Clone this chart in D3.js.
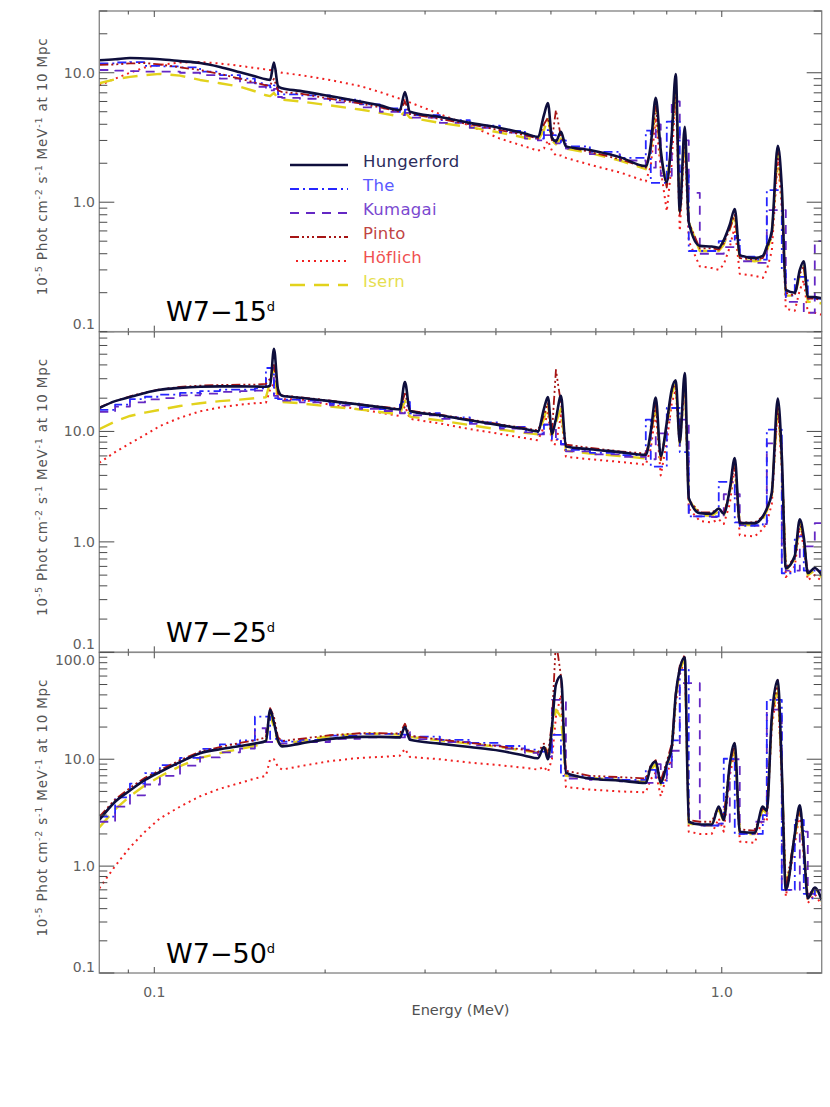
<!DOCTYPE html>
<html>
<head>
<meta charset="utf-8">
<script src="https://cdn.jsdelivr.net/npm/d3@7"></script>
<style>
  body { margin: 0; background: #fff; }
</style>
</head>
<body>
<script>
// energy grid (MeV), shared by every panel and model
const energy = [0.080, 0.0853, 0.0906, 0.0963, 0.1023, 0.111, 0.1204, 0.1305, 0.1416, 0.1504,
    0.1573, 0.160, 0.1625, 0.1652, 0.1679, 0.1806, 0.2040, 0.2303, 0.2498, 0.2709,
    0.2765, 0.2821, 0.3186, 0.3598, 0.4064, 0.4498, 0.4742, 0.4860, 0.4939, 0.5020,
    0.5102, 0.5207, 0.5313, 0.5855, 0.6613, 0.7347, 0.7497, 0.7650, 0.7806, 0.8000,
    0.8163, 0.8296, 0.8433, 0.8606, 0.8746, 0.9147, 0.9601, 0.9878, 1.0081, 1.0330,
    1.0541, 1.0757, 1.1432, 1.1810, 1.2005, 1.2251, 1.2552, 1.2758, 1.2967, 1.3449,
    1.3725, 1.3948, 1.4177, 1.4585, 1.500];

const models = ['Hungerford', 'The', 'Kumagai', 'Pinto', 'Höflich', 'Isern'];
const epochs = ['15', '25', '50'];

// W7 - 15 days
const hungerford15 = [12.5, 12.7, 13.0, 12.9, 12.7, 12.3, 11.9, 11.1, 10.1, 9.4,
    8.9, 8.8, 12.0, 7.9, 7.6, 7.25, 6.6, 6.0, 5.6, 5.15,
    7.1, 5.0, 4.55, 4.1, 3.75, 3.4, 3.2, 4.7, 5.84, 3.15,
    2.95, 3.5, 2.7, 2.53, 2.23, 1.9, 2.77, 6.41, 2.53, 1.43,
    3.3, 9.77, 0.85, 3.83, 0.7, 0.46, 0.455, 0.445, 0.51, 0.67,
    0.886, 0.39, 0.37, 0.385, 0.455, 0.6, 2.73, 1.3, 0.21, 0.2,
    0.3, 0.35, 0.186, 0.185, 0.181];
const the15 = [11.8, 12.0, 12.1, 11.3, 11.2, 11.0, 10.2, 9.6, 9.0, 8.3,
    8.0, 7.7, 8.0, 6.8, 6.8, 6.7, 6.2, 5.7, 5.3, 4.9,
    5.2, 4.7, 4.3, 3.9, 3.55, 3.25, 3.1, 3.6, 3.6, 3.3,
    2.9, 3.0, 2.7, 2.45, 2.2, 3.57, 1.41, 1.41, 1.41, 4.2,
    4.2, 4.2, 1.72, 1.72, 0.42, 0.42, 0.42, 0.5, 0.5, 0.5,
    0.55, 0.38, 0.36, 0.36, 1.24, 1.24, 1.24, 0.3, 0.19, 0.265,
    0.265, 0.265, 0.18, 0.18, 0.17];
const kumagai15 = [10.5, 10.4, 10.3, 10.2, 10.2, 10.0, 9.6, 9.0, 8.4, 7.8,
    7.4, 7.3, 7.5, 6.5, 6.4, 6.3, 5.9, 5.4, 5.0, 4.7,
    4.9, 4.5, 4.1, 3.75, 3.45, 3.1, 3.0, 3.3, 3.3, 3.3,
    2.85, 2.9, 2.6, 2.35, 2.1, 1.85, 1.85, 4.0, 1.6, 1.6,
    6.0, 6.0, 3.0, 3.0, 1.18, 0.4, 0.4, 0.4, 0.45, 0.45,
    0.45, 0.35, 0.34, 0.34, 0.87, 0.87, 0.87, 0.87, 0.17, 0.17,
    0.17, 0.14, 0.14, 0.5, 0.5];
const pinto15 = [11.5, 11.6, 11.8, 11.9, 11.6, 11.0, 10.5, 9.8, 9.0, 8.4,
    8.0, 8.0, 9.0, 7.3, 7.1, 6.9, 6.3, 5.8, 5.4, 5.0,
    6.0, 4.8, 4.4, 4.0, 3.6, 3.3, 3.1, 4.0, 4.5, 3.0,
    5.15, 3.2, 2.7, 2.45, 2.15, 1.85, 2.6, 5.5, 2.3, 1.3,
    3.0, 8.5, 0.8, 3.5, 0.7, 0.44, 0.44, 0.43, 0.48, 0.62,
    0.8, 0.37, 0.36, 0.37, 0.43, 0.55, 2.5, 1.2, 0.2, 0.19,
    0.28, 0.32, 0.18, 0.18, 0.175];
const hoflich15 = [8.0, 9.0, 10.0, 11.0, 11.5, 12.0, 12.1, 11.8, 11.3, 10.9,
    10.6, 10.5, 10.4, 10.2, 10.0, 9.6, 8.8, 7.9, 7.1, 6.3,
    6.1, 5.9, 4.8, 3.9, 3.1, 2.7, 2.5, 2.6, 3.0, 2.5,
    2.3, 2.3, 2.2, 1.95, 1.7, 1.45, 1.9, 4.5, 1.8, 0.85,
    2.0, 7.5, 0.6, 3.0, 0.5, 0.32, 0.31, 0.3, 0.33, 0.45,
    0.65, 0.28, 0.27, 0.26, 0.3, 0.42, 2.2, 0.9, 0.15, 0.145,
    0.21, 0.25, 0.14, 0.14, 0.135];
const isern15 = [8.3, 8.9, 9.3, 9.6, 9.8, 9.5, 8.8, 8.3, 7.8, 7.2,
    6.7, 6.6, 7.0, 6.3, 6.2, 6.0, 5.6, 5.2, 4.9, 4.6,
    5.0, 4.5, 4.1, 3.8, 3.45, 3.15, 3.0, 3.6, 4.5, 3.0,
    2.8, 3.1, 2.6, 2.4, 2.1, 1.8, 2.5, 5.8, 2.3, 1.35,
    3.1, 9.0, 0.8, 3.5, 0.7, 0.42, 0.42, 0.42, 0.47, 0.62,
    0.82, 0.36, 0.35, 0.36, 0.42, 0.55, 2.5, 1.2, 0.19, 0.19,
    0.27, 0.32, 0.17, 0.17, 0.165];

// W7 - 25 days
const hungerford25 = [16.3, 18.8, 20.5, 22.3, 23.8, 24.8, 25.4, 25.6, 25.6, 25.5,
    25.4, 26.0, 56.0, 24.0, 21.0, 20.2, 18.8, 17.5, 16.6, 15.8,
    28.0, 15.3, 14.0, 12.6, 11.4, 10.5, 10.0, 16.0, 20.5, 9.5,
    13.0, 21.0, 7.3, 6.9, 6.5, 6.15, 10.0, 20.3, 6.0, 12.0,
    24.0, 29.0, 8.0, 33.8, 2.5, 1.82, 1.8, 2.0, 1.8, 3.0,
    5.74, 1.48, 1.48, 1.7, 2.0, 2.8, 19.8, 6.0, 0.58, 0.75,
    1.6, 1.1, 0.52, 0.58, 0.5];
const the25 = [15.7, 17.5, 19.6, 20.6, 21.5, 22.3, 23.2, 23.9, 23.9, 24.5,
    37.5, 37.5, 20.0, 19.6, 19.4, 19.0, 17.8, 16.6, 15.9, 18.5,
    18.5, 14.6, 13.4, 12.1, 11.0, 10.1, 9.6, 11.5, 11.5, 8.5,
    8.5, 7.7, 6.8, 6.4, 6.1, 12.8, 4.8, 4.8, 4.8, 16.3,
    16.3, 16.3, 6.5, 6.5, 1.7, 1.7, 1.7, 3.5, 3.5, 3.5,
    1.5, 1.4, 1.42, 1.45, 10.4, 10.4, 10.4, 0.52, 0.52, 1.12,
    1.12, 0.55, 0.55, 0.55, 0.5];
const kumagai25 = [15.0, 16.8, 18.3, 19.5, 20.0, 21.2, 22.0, 22.8, 23.2, 23.4,
    30.6, 30.6, 21.0, 19.5, 19.0, 18.3, 17.2, 16.0, 15.3, 14.6,
    17.0, 14.0, 13.0, 11.7, 10.6, 9.8, 9.4, 11.5, 11.5, 11.5,
    8.4, 7.6, 6.6, 6.2, 5.9, 5.6, 5.6, 9.6, 9.6, 12.8,
    12.8, 12.8, 12.8, 12.8, 1.7, 1.7, 1.68, 1.7, 2.7, 2.7,
    2.7, 1.42, 1.4, 1.45, 7.8, 7.8, 7.8, 0.6, 0.55, 0.55,
    0.91, 0.91, 0.91, 1.48, 1.48];
const pinto25 = [16.5, 18.8, 20.8, 22.5, 24.0, 25.3, 26.0, 26.3, 26.5, 26.5,
    27.0, 30.0, 40.0, 22.0, 21.2, 20.4, 19.0, 17.6, 16.8, 16.0,
    22.0, 15.4, 14.2, 12.8, 11.6, 10.7, 10.2, 14.0, 18.0, 9.6,
    36.0, 18.0, 7.6, 7.1, 6.6, 6.3, 9.0, 18.0, 5.5, 11.0,
    23.0, 28.0, 8.0, 32.0, 2.4, 1.85, 1.85, 2.0, 1.8, 2.8,
    5.4, 1.5, 1.5, 1.7, 1.95, 2.7, 19.0, 5.5, 0.58, 0.72,
    1.55, 1.05, 0.52, 0.58, 0.52];
const hoflich25 = [5.2, 6.5, 7.8, 9.3, 11.2, 13.3, 15.2, 16.5, 17.5, 18.0,
    18.2, 24.0, 27.0, 20.0, 19.6, 19.5, 17.5, 15.8, 14.8, 13.8,
    17.0, 13.0, 11.8, 10.5, 9.5, 8.7, 8.3, 11.0, 15.0, 7.8,
    7.6, 14.0, 5.9, 5.6, 5.3, 5.0, 7.0, 15.0, 4.0, 8.0,
    18.0, 24.0, 7.0, 28.0, 2.0, 1.55, 1.5, 1.6, 1.45, 2.2,
    4.8, 1.15, 1.12, 1.3, 1.5, 2.2, 17.0, 4.5, 0.48, 0.6,
    1.35, 0.9, 0.45, 0.5, 0.44];
const isern25 = [10.5, 12.3, 13.8, 14.8, 15.7, 17.0, 18.0, 18.8, 19.4, 20.0,
    20.4, 28.0, 38.0, 19.0, 18.5, 18.0, 16.8, 15.8, 15.0, 14.3,
    19.0, 13.6, 12.6, 11.4, 10.4, 9.7, 9.4, 13.0, 18.0, 9.0,
    12.0, 16.0, 6.7, 6.3, 6.0, 5.7, 9.0, 18.0, 5.5, 11.0,
    22.0, 27.0, 7.5, 30.0, 2.4, 1.75, 1.72, 1.9, 1.7, 2.8,
    5.3, 1.42, 1.42, 1.6, 1.9, 2.6, 18.5, 5.5, 0.55, 0.7,
    1.5, 1.05, 0.5, 0.55, 0.48];

// W7 - 50 days
const hungerford50 = [2.7, 4.0, 5.1, 6.4, 7.6, 9.4, 11.4, 12.4, 13.3, 14.0,
    14.8, 29.0, 22.0, 15.0, 13.2, 14.0, 15.5, 16.2, 16.2, 16.0,
    20.0, 15.2, 14.0, 13.0, 12.0, 10.8, 10.2, 13.0, 10.0, 20.0,
    50.0, 60.0, 7.5, 6.6, 6.3, 6.0, 8.5, 9.5, 6.0, 9.0,
    13.0, 40.0, 70.0, 90.0, 2.6, 2.45, 2.45, 3.6, 2.7, 9.0,
    14.2, 2.1, 2.05, 3.6, 3.3, 25.0, 55.0, 8.0, 0.6, 2.0,
    3.7, 1.5, 0.5, 0.63, 0.48];
const the50 = [2.9, 4.4, 5.9, 7.4, 8.8, 10.3, 12.5, 13.8, 15.0, 25.0,
    25.0, 15.5, 15.5, 15.0, 14.6, 15.2, 16.6, 17.3, 17.3, 17.0,
    17.0, 16.3, 15.2, 14.2, 13.3, 12.3, 11.8, 11.8, 11.0, 16.9,
    16.9, 7.0, 7.0, 6.7, 6.4, 7.95, 7.95, 6.5, 6.0, 9.0,
    15.0, 15.0, 68.6, 68.6, 2.5, 2.4, 2.4, 2.5, 10.1, 10.1,
    2.0, 2.0, 2.0, 3.0, 35.9, 35.9, 35.9, 0.6, 0.6, 2.7,
    2.7, 0.55, 0.5, 0.6, 0.47];
const kumagai50 = [2.6, 3.6, 4.6, 5.8, 7.0, 8.7, 10.4, 11.6, 12.6, 19.5,
    14.5, 14.5, 14.5, 14.0, 14.0, 14.5, 15.5, 16.0, 16.2, 16.0,
    18.0, 15.4, 14.5, 13.5, 12.6, 11.5, 11.0, 11.0, 10.5, 35.9,
    35.9, 35.9, 6.6, 6.4, 6.2, 6.0, 6.0, 9.0, 6.0, 8.0,
    12.0, 12.0, 51.5, 51.5, 51.5, 2.4, 2.4, 2.5, 2.6, 10.0,
    10.0, 2.0, 2.6, 2.6, 29.1, 29.1, 29.1, 0.6, 0.6, 0.6,
    2.1, 2.1, 0.55, 0.6, 0.5];
const pinto50 = [2.9, 4.2, 5.4, 6.7, 7.9, 9.8, 11.8, 13.0, 14.2, 15.0,
    16.0, 30.0, 25.0, 16.0, 14.8, 15.5, 16.8, 17.5, 17.5, 17.4,
    21.5, 16.6, 15.3, 14.2, 13.2, 12.2, 11.6, 14.0, 11.0, 22.0,
    130.0, 60.0, 7.8, 7.0, 6.8, 6.6, 8.8, 9.8, 6.3, 9.5,
    14.0, 42.0, 75.0, 95.0, 2.7, 2.6, 2.6, 3.6, 2.9, 9.0,
    14.0, 2.2, 2.15, 3.5, 3.3, 24.0, 55.0, 8.0, 0.62, 2.0,
    3.6, 1.5, 0.52, 0.64, 0.5];
const hoflich50 = [0.62, 1.0, 1.5, 2.1, 2.8, 3.6, 4.5, 5.3, 6.0, 6.6,
    7.0, 10.0, 10.0, 8.5, 8.0, 8.6, 9.6, 10.3, 10.5, 10.8,
    12.5, 10.5, 10.0, 9.3, 8.8, 8.3, 8.0, 8.5, 7.6, 10.0,
    25.0, 40.0, 5.5, 5.2, 5.0, 4.9, 6.5, 7.5, 4.5, 7.0,
    10.5, 33.0, 62.0, 85.0, 2.1, 2.0, 2.0, 2.8, 2.1, 7.0,
    12.0, 1.7, 1.65, 2.8, 2.6, 20.0, 48.0, 6.0, 0.52, 1.6,
    3.2, 1.2, 0.45, 0.55, 0.43];
const isern50 = [2.3, 3.4, 4.5, 5.7, 6.9, 8.6, 10.3, 11.4, 12.5, 13.3,
    14.5, 26.0, 20.0, 14.5, 13.6, 14.8, 16.5, 17.3, 17.3, 17.0,
    19.0, 16.2, 15.0, 14.0, 13.0, 12.0, 11.5, 13.5, 11.0, 18.0,
    29.0, 25.0, 7.0, 6.7, 6.4, 6.2, 8.0, 9.0, 5.8, 8.5,
    13.0, 38.0, 68.0, 88.0, 2.5, 2.4, 2.4, 3.4, 2.6, 8.5,
    13.5, 2.0, 2.0, 3.4, 3.1, 23.0, 52.0, 7.5, 0.58, 1.9,
    3.5, 1.4, 0.5, 0.6, 0.47];

// axis ranges and labelled ticks
const yMax = [30, 80, 100];
const yLabels = [[0.1, 1, 10], [0.1, 1, 10], [0.1, 1, 10, 100]];
const xLabels = [0.1, 1.0];

const panelData = [
    [hungerford15, the15, kumagai15, pinto15, hoflich15, isern15],
    [hungerford25, the25, kumagai25, pinto25, hoflich25, isern25],
    [hungerford50, the50, kumagai50, pinto50, hoflich50, isern50]
];

const styles = [
    {color: '#0e0e3c', text: '#2c2c5a', dash: null, w: 2.6, curve: d3.curveMonotoneX},
    {color: '#2626ff', text: '#5a5aff', dash: '9,4,2,4', w: 1.8, curve: d3.curveStepAfter},
    {color: '#6428c4', text: '#7a48d0', dash: '9,7', w: 1.8, curve: d3.curveStepAfter},
    {color: '#a61414', text: '#c04444', dash: '9,3,2,3,2,3,2,3', w: 1.8, curve: d3.curveLinear},
    {color: '#f02020', text: '#f05050', dash: '2,4', w: 2, curve: d3.curveLinear},
    {color: '#e2d21c', text: '#e6de50', dash: '15,9', w: 2.4, curve: d3.curveLinear}
];
const drawOrder = [4, 5, 2, 1, 3, 0];

const width = 830;
const height = 1107;
const left = 99.3;
const right = 821.7;
const top0 = 11;
const panelH = 320.67;

const svg = d3.select('body')
    .append('svg')
    .attr('width', width)
    .attr('height', height)
    .style('font-family', '"DejaVu Sans", sans-serif');

const x = d3.scaleLog().domain([0.08, 1.5]).range([left, right]);
const fmt = d3.format('.1f');
const xTicks = x.ticks().filter(t => t > 0.085 && t < 1.01);

epochs.forEach((epoch, p) => {
    const top = top0 + p * panelH;
    const bottom = top + panelH;
    const y = d3.scaleLog().domain([0.1, yMax[p]]).range([bottom, top]);
    const g = svg.append('g');

    g.append('clipPath')
        .attr('id', 'clip' + p)
        .append('rect')
        .attr('x', left).attr('y', top)
        .attr('width', right - left).attr('height', panelH);

    const plot = g.append('g').attr('clip-path', 'url(#clip' + p + ')');
    drawOrder.forEach(m => {
        const s = styles[m];
        const line = d3.line()
            .x((d, i) => x(energy[i]))
            .y(d => y(d))
            .curve(s.curve);
        plot.append('path')
            .datum(panelData[p][m])
            .attr('d', line)
            .attr('fill', 'none')
            .attr('stroke', s.color)
            .attr('stroke-width', s.w)
            .attr('stroke-dasharray', s.dash)
            .attr('stroke-linejoin', 'round');
    });

    // frame
    g.append('rect')
        .attr('x', left).attr('y', top)
        .attr('width', right - left).attr('height', panelH)
        .attr('fill', 'none')
        .attr('stroke', '#8a8a8a')
        .attr('stroke-width', 1.4);

    // y ticks, both sides
    y.ticks().forEach(t => {
        const lg = Math.log10(t);
        const major = Math.abs(lg - Math.round(lg)) < 1e-6;
        const len = major ? 15 : 8;
        const yy = y(t);
        g.append('line')
            .attr('x1', left).attr('x2', left + len)
            .attr('y1', yy).attr('y2', yy)
            .attr('stroke', '#4a4a4a').attr('stroke-width', 1);
        g.append('line')
            .attr('x1', right).attr('x2', right - len)
            .attr('y1', yy).attr('y2', yy)
            .attr('stroke', '#4a4a4a').attr('stroke-width', 1);
    });

    // x ticks, top and bottom
    xTicks.forEach(t => {
        const major = Math.abs(Math.log10(t) - Math.round(Math.log10(t))) < 1e-6;
        const len = major ? 6 : 3.5;
        const xx = x(t);
        g.append('line')
            .attr('x1', xx).attr('x2', xx)
            .attr('y1', top).attr('y2', top + len)
            .attr('stroke', '#4a4a4a').attr('stroke-width', 1);
        g.append('line')
            .attr('x1', xx).attr('x2', xx)
            .attr('y1', bottom).attr('y2', bottom - len)
            .attr('stroke', '#4a4a4a').attr('stroke-width', 1);
    });

    // y tick labels
    yLabels[p].forEach(v => {
        let off = 0;
        if (v === 0.1) off = p === 2 ? -6 : -8;
        if (v === 100) off = 8;
        g.append('text')
            .attr('x', 95)
            .attr('y', y(v) + off)
            .attr('text-anchor', 'end')
            .attr('dominant-baseline', 'central')
            .attr('font-size', 14)
            .attr('fill', '#606060')
            .text(fmt(v));
    });

    // y title
    const title = g.append('text')
        .attr('transform', 'translate(47,' + (top + panelH / 2 - 5) + ') rotate(-90)')
        .attr('text-anchor', 'middle')
        .attr('font-size', 13.5)
        .attr('fill', '#555')
        .attr('letter-spacing', 0.8);
    const parts = [['10', false], ['-5', true], [' Phot cm', false], ['-2', true],
        [' s', false], ['-1', true], [' MeV', false], ['-1', true], [' at 10 Mpc', false]];
    parts.forEach(([txt, sup], i) => {
        const prevSup = i > 0 && parts[i - 1][1];
        title.append('tspan')
            .attr('dy', sup ? -5 : (prevSup ? 5 : 0))
            .attr('font-size', sup ? 9.5 : 13.5)
            .text(txt);
    });

    // panel label
    const lab = g.append('text')
        .attr('x', 166)
        .attr('y', bottom - 10.5)
        .attr('font-size', 27)
        .attr('fill', '#000')
        .text('W7\u2212' + epoch);
    lab.append('tspan')
        .attr('dy', -10)
        .attr('font-size', 13)
        .text('d');
});

// legend in the first panel
models.forEach((name, i) => {
    const s = styles[i];
    const yb = 166.5 + 24 * i;
    svg.append('line')
        .attr('x1', i === 4 ? 296 : 290).attr('x2', 348)
        .attr('y1', yb - 1.5).attr('y2', yb - 1.5)
        .attr('stroke', s.color)
        .attr('stroke-width', s.w)
        .attr('stroke-dasharray', s.dash);
    svg.append('text')
        .attr('x', 363)
        .attr('y', yb)
        .attr('font-size', 16.5)
        .attr('letter-spacing', 0.3)
        .attr('fill', s.text)
        .text(name);
});

// x tick labels and title
xLabels.forEach(v => {
    svg.append('text')
        .attr('x', x(v))
        .attr('y', 997)
        .attr('text-anchor', 'middle')
        .attr('font-size', 14)
        .attr('fill', '#606060')
        .text(fmt(v));
});

svg.append('text')
    .attr('x', (left + right) / 2)
    .attr('y', 1015)
    .attr('text-anchor', 'middle')
    .attr('font-size', 14.5)
    .attr('fill', '#505050')
    .text('Energy (MeV)');
</script>
</body>
</html>
